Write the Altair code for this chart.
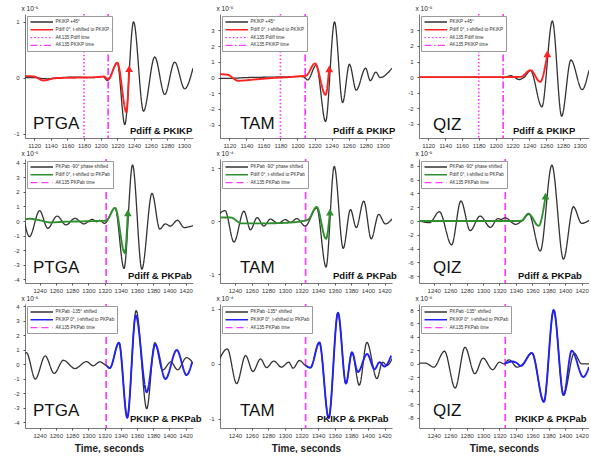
import altair as alt
import pandas as pd

# ---------------- shared axes ----------------
T1_DOMAIN = [1109, 1311]
T23_DOMAIN = [1222, 1429]
T1_TICKS = [1120, 1140, 1160, 1180, 1200, 1220, 1240, 1260, 1280, 1300]
T23_TICKS = [1240, 1260, 1280, 1300, 1320, 1340, 1360, 1380, 1400, 1420]

R1_NAMES = ["PKIKP +45°", "Pdiff 0°, t-shifted to PKIKP", "AK135 Pdiff time", "AK135 PKIKP time"]
R2_NAMES = ["PKPab -90° phase shifted", "Pdiff 0°, t-shifted to PKPab", "AK135 PKPab time"]
R3_NAMES = ["PKPab -135° shifted", "PKIKP 0°, t-shifted to PKPab", "AK135 PKPab time"]

# arrival times (s)
r1_arrivals = [1180, 1209]
r23_arrivals = [1322, 1325, 1327]

# ---------------- row 1: Pdiff & PKIKP ----------------
a_black_t = [1105, 1120, 1135, 1150, 1170, 1190, 1203, 1208, 1220, 1229, 1239.5, 1251.5, 1265, 1277, 1289, 1301, 1311]
a_black_v = [0.0, 0.0, -0.02, 0.0, 0.01, 0.0, 0.02, -0.05, 0.26, -0.84, 1.0, -0.6, 0.37, -0.3, 0.28, -0.2, 0.17]
a_red_t = [1105, 1120, 1131, 1145, 1170, 1195, 1204, 1209, 1220, 1231, 1234]
a_red_v = [0.03, 0.02, -0.05, -0.01, 0.0, 0.01, 0.02, -0.03, 0.27, -0.62, 0.1]
a_head = [1234.2, 0.16]

b_black_t = [1105, 1120, 1140, 1160, 1180, 1200, 1207, 1212, 1222, 1233, 1243.5, 1253, 1261, 1269, 1280, 1285.5, 1292, 1297, 1311]
b_black_v = [-0.05, -0.05, 0.0, 0.02, 0.04, 0.06, 0.05, -0.15, 0.8, -2.8, 3.55, -1.6, 0.85, -0.8, 0.6, -0.2, 0.35, 0.0, 0.6]
b_red_t = [1105, 1118, 1130, 1150, 1170, 1190, 1205, 1210, 1220.5, 1233, 1237]
b_red_v = [0.23, 0.18, -0.2, -0.12, -0.03, 0.03, 0.1, 0.12, 0.9, -1.1, 0.45]
b_head = [1237.3, 0.55]

c_black_t = [1105, 1150, 1200, 1211, 1218, 1228, 1234, 1241.5, 1255, 1267.5, 1278.5, 1289.5, 1302.8, 1311]
c_black_v = [0.0, 0.0, 0.0, 0.0, 0.1, -0.15, 0.0, 0.42, -1.9, 3.6, -2.5, 1.1, -0.8, 0.45]
c_red_t = [1105, 1150, 1200, 1230, 1241.5, 1253, 1261]
c_red_v = [0.0, 0.0, 0.0, 0.02, 0.45, -0.3, 1.3]
c_head = [1261.5, 1.5]

# ---------------- row 2: Pdiff & PKPab ----------------
d_black_t = [1219, 1227.5, 1240, 1250, 1261.5, 1272.5, 1283.5, 1294.5, 1305, 1310, 1314, 1320, 1333, 1344,
             1354.5, 1366, 1378.5, 1388, 1395, 1401, 1410, 1418, 1430]
d_black_v = [0.7, -1.07, 0.71, -0.5, 0.34, -0.27, 0.18, -0.2, 0.11, -0.05, 0.05, -0.16, 0.9, -3.25,
             3.84, -3.3, 1.9, -0.55, -0.2, -0.35, 0.05, -0.45, -0.3]
d_green_t = [1219, 1228, 1240, 1253, 1270, 1290, 1310, 1322, 1333, 1345, 1348.5]
d_green_v = [0.08, 0.15, 0.05, -0.1, -0.05, -0.03, 0.0, 0.02, 0.9, -2.2, 0.35]
d_head = [1348.7, 0.55]

e_black_t = [1219, 1228, 1238.8, 1250.8, 1258.7, 1266.7, 1274.7, 1282.6, 1291.8, 1300.6, 1307, 1314.5, 1324.5,
             1338.4, 1349.6, 1359.5, 1370.3, 1379, 1386, 1395, 1404, 1413, 1421, 1430]
e_black_v = [0.1, 0.2, -0.39, 0.19, -0.16, 0.07, -0.09, 0.04, -0.04, 0.03, -0.02, 0.05, -0.09,
             0.25, -0.86, 1.03, -0.51, 0.22, -0.12, 0.38, -0.33, 0.13, -0.05, 0.06]
e_green_t = [1219, 1235, 1248, 1270, 1300, 1320, 1328, 1338.4, 1349.6, 1354]
e_green_v = [0.07, 0.07, -0.04, -0.04, -0.03, 0.0, 0.03, 0.27, -0.33, 0.12]
e_head = [1354.3, 0.17]

f_black_t = [1219, 1234.8, 1246.8, 1261.7, 1273, 1284.3, 1296.4, 1309, 1318, 1322, 1327, 1339.5, 1347,
             1355.6, 1369.7, 1383.8, 1397.9, 1410, 1420, 1430]
f_black_v = [0.15, -0.25, 1.35, -3.47, 2.9, -1.4, 0.72, -0.92, 0.35, 0.25, 0.45, -0.48, 0.0,
             1.1, -4.35, 8.1, -5.54, 2.07, -0.34, 0.15]
f_green_t = [1219, 1280, 1340, 1347, 1355.6, 1367.7, 1375.7]
f_green_v = [0.0, 0.0, 0.0, 0.05, 1.0, -0.7, 3.3]
f_head = [1376, 3.6]

# ---------------- row 3: PKIKP & PKPab ----------------
g_black_t = [1219.6, 1223.7, 1234.7, 1246.9, 1257.9, 1269.3, 1283.6, 1297.8, 1306, 1314.1, 1321, 1326.4,
             1337.8, 1348, 1359, 1372, 1382, 1391.5, 1401.7, 1410, 1421, 1430]
g_black_v = [0.45, 0.8, -1.02, 0.57, -0.64, 0.27, -0.3, 0.18, -0.11, 0.16, -0.05, -0.27,
             1.48, -3.64, 3.7, -3.07, 1.48, -0.41, 0.16, -0.39, 0.45, 0.0]
g_blue_t = [1323, 1326.4, 1337.8, 1348, 1358.5, 1372, 1382.5, 1395, 1409, 1421, 1428]
g_blue_v = [-0.12, -0.27, 1.48, -3.7, 3.36, -1.93, 1.36, -1.02, 0.98, -0.75, 0.15]

h_black_t = [1219, 1230.8, 1242, 1252.8, 1261.6, 1270.8, 1278, 1286.8, 1296, 1304.8, 1310, 1317.6, 1324.8,
             1330.8, 1341.6, 1352.8, 1364, 1373.6, 1380.8, 1389.6, 1398.8, 1410.8, 1417.6, 1422.8, 1430]
h_black_v = [0.0, 0.27, -0.36, 0.15, -0.14, 0.09, -0.07, 0.05, -0.06, 0.03, -0.08, 0.06, -0.03,
             -0.07, 0.39, -0.99, 0.93, -0.36, 0.21, -0.39, 0.39, -0.27, 0.03, -0.03, 0.12]
h_blue_t = [1325, 1330.8, 1341.6, 1352.8, 1364, 1373.6, 1380.8, 1388, 1399, 1408, 1414, 1420, 1428]
h_blue_v = [-0.03, -0.07, 0.39, -0.99, 0.93, -0.36, 0.21, -0.15, 0.18, -0.1, 0.03, -0.05, 0.15]

i_black_t = [1219, 1230, 1240, 1253, 1266, 1278, 1290, 1300, 1311.7, 1320, 1325.6, 1331.6, 1341.5, 1347,
             1359.5, 1374, 1386, 1398, 1411, 1420, 1430]
i_black_v = [0.12, 0.1, -0.5, 1.87, -3.6, 2.46, -1.47, 0.84, -0.88, 0.25, 0.0, 0.6, -0.5, -0.2,
             1.62, -5.65, 8.0, -4.66, 1.57, 0.0, 0.0]
i_blue_t = [1326, 1335.6, 1340, 1346, 1359.5, 1374, 1386, 1398, 1408, 1422, 1429]
i_blue_v = [0.0, 0.35, 0.2, -0.3, 1.62, -5.65, 8.0, -4.66, 1.96, -1.96, -0.5]

# ---------------- styling ----------------
BLACK = "#333333"
RED = "#ff2222"
GREEN = "#2f8f2f"
BLUE = "#2222f0"
MAGENTA = "#ff3cff"
SOLID = [1, 0]
R1_DASHES = [SOLID, SOLID, [1.5, 2.2], [7, 2.5, 1.5, 2.5]]
R23_DASHES = [SOLID, SOLID, [7, 4]]

W = [168, 172, 170]
H = 124
FONT = "Liberation Sans"


def panel(black_t, black_v, col_t, col_v, head, arrivals, names, col_color, dashes,
          xdom, xticks, ydom, yticks, exponent, station, phase, st_xy, ph_xy, width, xtitle=None):
    black = pd.DataFrame({"t": black_t, "v": black_v, "s": names[0]})
    shifted = pd.DataFrame({"t": col_t, "v": col_v, "s": names[1]})
    rules = pd.DataFrame({"t": arrivals, "s": names[2:]})
    tip = pd.DataFrame({"t": [head[0]], "v": [head[1]]}) if head else None

    colors = [BLACK, col_color] + [MAGENTA] * (len(names) - 2)
    leg = alt.Legend(title=None, orient="top-left", offset=2, padding=2.5, fillColor="white",
                     strokeColor="#9a9a9a", labelFontSize=4.6, labelColor="#333", labelLimit=300,
                     symbolType="M-1,0H8", symbolSize=25, symbolStrokeWidth=1.4,
                     labelOffset=19, rowPadding=0.8)
    color = alt.Color("s:N", scale=alt.Scale(domain=names, range=colors), legend=leg)
    dash = alt.StrokeDash("s:N", scale=alt.Scale(domain=names, range=dashes), legend=leg)

    x_axis = alt.Axis(values=xticks, labelExpr="'' + datum.value", labelFontSize=6, labelPadding=2,
                      labelOverlap=False, tickSize=2, titleFontSize=10, titleFontWeight="bold",
                      titlePadding=5, titleColor="#222")
    x = alt.X("t:Q", scale=alt.Scale(domain=xdom, nice=False, zero=False), axis=x_axis, title=xtitle)
    y_axis = alt.Axis(values=yticks, labelExpr="'' + datum.value", labelFontSize=6, labelPadding=4,
                      labelOverlap=False, tickSize=2, title=exponent, titleAngle=0, titleAlign="left",
                      titleBaseline="bottom", titleX=-4, titleY=-3, titleFontSize=6.5,
                      titleFontWeight="normal", titleColor="#222")
    y = alt.Y("v:Q", scale=alt.Scale(domain=ydom, nice=False, zero=False), axis=y_axis)

    layers = [
        alt.Chart(rules).mark_rule(strokeWidth=1.7).encode(x=x, color=color, strokeDash=dash),
        alt.Chart(black).mark_line(interpolate="monotone", strokeWidth=1.3, clip=True).encode(
            x=x, y=y, color=color, strokeDash=dash),
        alt.Chart(shifted).mark_line(interpolate="monotone", strokeWidth=1.9, clip=True).encode(
            x=x, y=y, color=color, strokeDash=dash),
    ]
    if tip is not None:
        layers.append(alt.Chart(tip).mark_point(shape="triangle-up", filled=True, size=60,
                                                color=col_color, opacity=1).encode(x=x, y=y))
    layers.append(alt.Chart(pd.DataFrame({"label": [station]})).mark_text(
        align="left", baseline="alphabetic", fontSize=17, font=FONT, color="#111").encode(
        x=alt.value(st_xy[0]), y=alt.value(st_xy[1]), text="label:N"))
    layers.append(alt.Chart(pd.DataFrame({"label": [phase]})).mark_text(
        align="left", baseline="alphabetic", fontSize=9.5, fontWeight="bold", font=FONT,
        color="#111").encode(x=alt.value(ph_xy[0]), y=alt.value(ph_xy[1]), text="label:N"))
    return alt.layer(*layers).properties(width=width, height=H)


E5 = "x 10⁻⁵"
E4 = "x 10⁻⁴"
Y4 = [-4, -3, -2, -1, 0, 1, 2, 3, 4]
Y3 = [-3, -2, -1, 0, 1, 2, 3]
Y1 = [-1, 0, 1]
Y8 = [-8, -6, -4, -2, 0, 2, 4, 6, 8]

panels = [
    panel(a_black_t, a_black_v, a_red_t, a_red_v, a_head, r1_arrivals, R1_NAMES, RED, R1_DASHES,
          T1_DOMAIN, T1_TICKS, [-1.08, 1.14], Y1, E5, "PTGA", "Pdiff & PKIKP", (8, 115), (105, 119.5), W[0]),
    panel(b_black_t, b_black_v, b_red_t, b_red_v, b_head, r1_arrivals, R1_NAMES, RED, R1_DASHES,
          T1_DOMAIN, T1_TICKS, [-3.85, 4.05], Y3, E5, "TAM", "Pdiff & PKIKP", (20, 115), (113, 119.5), W[1]),
    panel(c_black_t, c_black_v, c_red_t, c_red_v, c_head, r1_arrivals, R1_NAMES, RED, R1_DASHES,
          T1_DOMAIN, T1_TICKS, [-3.9, 4.05], Y3, E5, "QIZ", "Pdiff & PKIKP", (14, 116), (94, 119.5), W[2]),
    panel(d_black_t, d_black_v, d_green_t, d_green_v, d_head, [r23_arrivals[0]], R2_NAMES, GREEN, R23_DASHES,
          T23_DOMAIN, T23_TICKS, [-4.25, 4.25], Y4, E5, "PTGA", "Pdiff & PKPab", (8, 114), (103, 119.5), W[0]),
    panel(e_black_t, e_black_v, e_green_t, e_green_v, e_head, [r23_arrivals[1]], R2_NAMES, GREEN, R23_DASHES,
          T23_DOMAIN, T23_TICKS, [-1.16, 1.17], Y1, E4, "TAM", "Pdiff & PKPab", (20, 114), (113, 119.5), W[1]),
    panel(f_black_t, f_black_v, f_green_t, f_green_v, f_head, [r23_arrivals[2]], R2_NAMES, GREEN, R23_DASHES,
          T23_DOMAIN, T23_TICKS, [-9, 9], Y8, E5, "QIZ", "Pdiff & PKPab", (14, 114), (99, 119.5), W[2]),
    panel(g_black_t, g_black_v, g_blue_t, g_blue_v, None, [r23_arrivals[0]], R3_NAMES, BLUE, R23_DASHES,
          T23_DOMAIN, T23_TICKS, [-4.4, 4.15], Y4, E5, "PTGA", "PKIKP & PKPab", (8, 112), (105, 117.5), W[0],
          "Time, seconds"),
    panel(h_black_t, h_black_v, h_blue_t, h_blue_v, None, [r23_arrivals[1]], R3_NAMES, BLUE, R23_DASHES,
          T23_DOMAIN, T23_TICKS, [-1.17, 1.09], Y1, E4, "TAM", "PKIKP & PKPab", (20, 112), (97, 117.5), W[1],
          "Time, seconds"),
    panel(i_black_t, i_black_v, i_blue_t, i_blue_v, None, [r23_arrivals[2]], R3_NAMES, BLUE, R23_DASHES,
          T23_DOMAIN, T23_TICKS, [-9.55, 8.9], Y8, E5, "QIZ", "PKIKP & PKPab", (14, 112), (96, 117.5), W[2],
          "Time, seconds"),
]

INDEP = dict(x="independent", y="independent", color="independent", strokeDash="independent")

chart = (
    alt.concat(*panels, columns=3, spacing={"row": 21, "column": 27}, bounds="flush")
    .resolve_scale(**INDEP)
    .properties(padding={"left": 13, "top": 5, "right": 0, "bottom": 0}, background="white")
    .configure(font=FONT)
    .configure_view(stroke=None)
    .configure_axis(grid=False, domainColor="#555", domainWidth=0.8, tickColor="#555",
                    labelColor="#333", labelFont=FONT)
)

chart.save("out.html", embed_options={"renderer": "svg", "actions": False})
